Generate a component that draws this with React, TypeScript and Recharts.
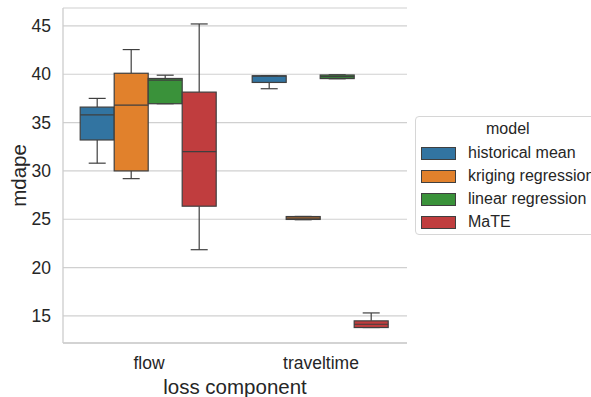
import { BarChart, Bar, XAxis, YAxis, CartesianGrid, Legend } from "recharts";

// five-number summaries per loss component: [whisker low, q1, median, q3, whisker high]
const components = ["flow", "traveltime"];
const models = ["historical mean", "kriging regression", "linear regression", "MaTE"];
const colors = ["#3274a1", "#e1812c", "#3a923a", "#c03d3e"];

const historicalMean = [
  [30.8, 33.2, 35.8, 36.6, 37.5],
  [38.5, 39.15, 39.8, 39.84, 39.84],
];
const krigingRegression = [
  [29.2, 30.0, 36.8, 40.1, 42.55],
  [24.95, 24.98, 25.12, 25.28, 25.29],
];
const linearRegression = [
  [36.95, 36.95, 39.4, 39.56, 39.9],
  [39.53, 39.55, 39.75, 39.92, 39.94],
];
const mate = [
  [21.85, 26.35, 32.0, 38.15, 45.2],
  [13.8, 13.8, 14.14, 14.49, 15.31],
];

const yTicks = [15, 20, 25, 30, 35, 40, 45];

const summaries = [historicalMean, krigingRegression, linearRegression, mate];
const data = components.map((c, i) => {
  const row: Record<string, unknown> = { component: c };
  summaries.forEach((s, m) => {
    row[`m${m}`] = s[i];
  });
  return row;
});

const EDGE = "#3f3f3f";
const FONT = "'Liberation Sans', Arial, sans-serif";

function BoxShape(props: any) {
  const { x, y, width, height, payload, modelIndex } = props;
  const [lo, q1, med, q3, hi] = payload[`m${modelIndex}`] as number[];
  const top = Math.min(y, y + height);
  const bot = Math.max(y, y + height);
  const k = (bot - top) / (hi - lo);
  const py = (v: number) => top + (hi - v) * k;
  const cx = x + width / 2;
  const capHalf = width / 4;
  return (
    <g>
      <line x1={cx} x2={cx} y1={py(hi)} y2={py(q3)} stroke={EDGE} strokeWidth={1.2} />
      <line x1={cx} x2={cx} y1={py(q1)} y2={py(lo)} stroke={EDGE} strokeWidth={1.2} />
      <line x1={cx - capHalf} x2={cx + capHalf} y1={py(hi)} y2={py(hi)} stroke={EDGE} strokeWidth={1.2} />
      <line x1={cx - capHalf} x2={cx + capHalf} y1={py(lo)} y2={py(lo)} stroke={EDGE} strokeWidth={1.2} />
      <rect
        x={x}
        y={py(q3)}
        width={width}
        height={Math.max(py(q1) - py(q3), 0.5)}
        fill={colors[modelIndex]}
        stroke={EDGE}
        strokeWidth={1.2}
      />
      <line x1={x} x2={x + width} y1={py(med)} y2={py(med)} stroke={EDGE} strokeWidth={1.2} />
    </g>
  );
}

function ModelLegend() {
  return (
    <div
      style={{
        position: "absolute",
        left: 415,
        top: 116,
        width: 200,
        height: 119,
        border: "1px solid #d6d6d6",
        borderRadius: 4,
        background: "white",
        fontFamily: FONT,
        fontSize: 16,
        color: "#262626",
        boxSizing: "border-box",
      }}
    >
      <div style={{ position: "absolute", left: 70, top: 3 }}>model</div>
      {models.map((m, i) => (
        <div key={m} style={{ position: "absolute", left: 5, top: 27 + i * 23, display: "flex", alignItems: "center" }}>
          <span
            style={{
              display: "inline-block",
              width: 33,
              height: 11,
              background: colors[i],
              border: `1px solid ${EDGE}`,
              marginRight: 12,
            }}
          />
          <span style={{ whiteSpace: "nowrap" }}>{m}</span>
        </div>
      ))}
    </div>
  );
}

export default function App() {
  return (
    <div style={{ position: "absolute", left: 0, top: 0, width: 591, height: 397, overflow: "hidden", background: "white" }}>
      <BarChart
        width={591}
        height={397}
        data={data}
        margin={{ top: 8, right: 184, bottom: 0, left: 0 }}
        barCategoryGap="10%"
        barGap={0}
      >
        <CartesianGrid horizontal vertical={false} stroke="#d0d0d0" strokeWidth={1.2} />
        <XAxis
          dataKey="component"
          height={54}
          tickLine={false}
          axisLine={{ stroke: "#cccccc", strokeWidth: 1.3 }}
          tick={{ fill: "#262626", fontSize: 17.5, fontFamily: FONT, dy: 6 }}
          label={{
            value: "loss component",
            position: "insideBottom",
            offset: 3,
            fill: "#262626",
            fontSize: 20.5,
            fontFamily: FONT,
          }}
        />
        <XAxis
          xAxisId="top"
          dataKey="component"
          orientation="top"
          height={0}
          tick={false}
          tickLine={false}
          axisLine={{ stroke: "#cccccc", strokeWidth: 1.3 }}
        />
        <YAxis
          width={63}
          domain={[12.2, 46.85]}
          ticks={yTicks}
          allowDataOverflow
          tickLine={false}
          axisLine={{ stroke: "#cccccc", strokeWidth: 1.3 }}
          tick={{ fill: "#262626", fontSize: 17.5, fontFamily: FONT, dx: -4 }}
          label={{
            value: "mdape",
            angle: -90,
            position: "insideLeft",
            offset: 19,
            fill: "#262626",
            fontSize: 20.5,
            fontFamily: FONT,
            style: { textAnchor: "middle" },
          }}
        />
        <YAxis
          yAxisId="right"
          orientation="right"
          width={0}
          domain={[12.2, 46.85]}
          tick={false}
          tickLine={false}
          axisLine={{ stroke: "#cccccc", strokeWidth: 1.3 }}
        />
        {models.map((m, i) => (
          <Bar
            key={m}
            name={m}
            dataKey={(d: any) => [d[`m${i}`][0], d[`m${i}`][4]]}
            fill={colors[i]}
            isAnimationActive={false}
            shape={(p: any) => <BoxShape {...p} modelIndex={i} />}
          />
        ))}
        <Legend content={() => null} />
      </BarChart>
      <ModelLegend />
    </div>
  );
}
